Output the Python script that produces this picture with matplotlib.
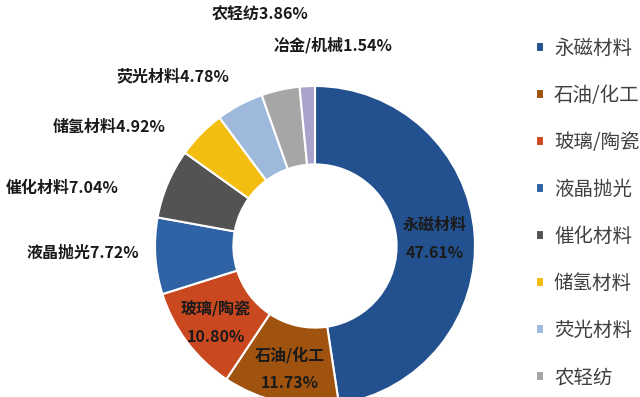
import matplotlib.pyplot as plt

plt.rcParams['font.family'] = ['Noto Sans CJK SC', 'DejaVu Sans']

# 各行业占比 (%)
names = ["永磁材料", "石油/化工", "玻璃/陶瓷", "液晶抛光", "催化材料",
         "储氢材料", "荧光材料", "农轻纺", "冶金/机械"]
shares = [47.61, 11.73, 10.80, 7.72, 7.04, 4.92, 4.78, 3.86, 1.54]
colors = ["#23508e", "#a0530f", "#c9481f", "#2f63a5", "#535353",
          "#f4bd12", "#9eb9db", "#a6a6a6", "#a9a2cb"]

W, H = 640, 397


def px(x, y):
    # pixel position (from top-left) -> figure fraction
    return x / W, 1 - y / H


fig = plt.figure(figsize=(W / 100, H / 100), dpi=100)
fig.patch.set_facecolor("white")

# donut: centre (315, 246), outer radius 160 px
cx, cy, r = 315, 246, 160
ax = fig.add_axes([(cx - r) / W, (H - cy - r) / H, 2 * r / W, 2 * r / H])
wedges, _ = ax.pie(shares, colors=colors, startangle=90, counterclock=False,
                   wedgeprops=dict(width=0.49, edgecolor="white", linewidth=1.5))
ax.set_xlim(-1, 1)
ax.set_ylim(-1, 1)
ax.axis("off")

lab_kw = dict(fontsize=11.5, fontweight="bold", color="#1a1a1a",
              ha="center", va="center")

# labels inside the ring (two lines)
inside = {0: ((435, 225), (435, 253)),
          1: ((290, 355), (290, 383)),
          2: ((216, 308), (216, 337))}
for i, (p1, p2) in inside.items():
    fig.text(*px(*p1), names[i], **lab_kw)
    fig.text(*px(*p2), f"{shares[i]:.2f}%", **lab_kw)

# labels outside the ring
outside = {3: (83, 253), 4: (62, 188), 5: (109, 127),
           6: (173, 76), 7: (260, 15), 8: (333, 45)}
for i, p in outside.items():
    fig.text(*px(*p), f"{names[i]}{shares[i]:.2f}%", **lab_kw)

# the reference legend only has room for the first eight entries
leg = fig.legend(wedges[:8], names[:8], loc="upper left",
                 bbox_to_anchor=px(536, 38), frameon=False,
                 fontsize=14, labelcolor="#404040",
                 handlelength=0.42, handleheight=0.42, handletextpad=0.5,
                 labelspacing=1.34, borderaxespad=0, borderpad=0)

fig.savefig("out.png", dpi=100)
